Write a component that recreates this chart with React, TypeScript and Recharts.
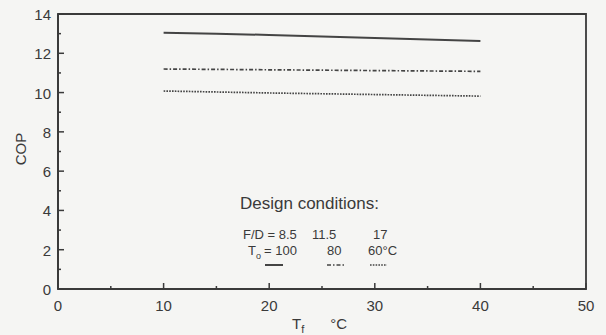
import { LineChart, Line, XAxis, YAxis, ReferenceArea } from "recharts";

// fluid temperature T_f (°C) and COP for the three design conditions
const tf = [10, 15, 20, 25, 30, 35, 40];
const cop100 = [13.05, 13.0, 12.93, 12.85, 12.78, 12.7, 12.62];
const cop80 = [11.2, 11.18, 11.16, 11.14, 11.12, 11.1, 11.08];
const cop60 = [10.08, 10.03, 9.98, 9.94, 9.9, 9.86, 9.82];

const xTicks = [0, 5, 10, 15, 20, 25, 30, 35, 40, 45, 50];
const yTicks = [0, 1, 2, 3, 4, 5, 6, 7, 8, 9, 10, 11, 12, 13, 14];

const INK = "#3a3a3a";
const FONT = "'Liberation Sans', Arial, sans-serif";
const DASH_80 = "4 2 1.5 2";
const DASH_60 = "1.6 1.2";

const data = tf.map((t, i) => ({
  t,
  cop100: cop100[i],
  cop80: cop80[i],
  cop60: cop60[i],
}));

function XTick(props: any) {
  const { x, y, payload } = props;
  const major = payload.value % 10 === 0;
  return (
    <g>
      <line x1={x} y1={y} x2={x} y2={y - (major ? 6 : 3)} stroke={INK} strokeWidth={1.5} />
      {major && (
        <text x={x} y={y + 22} textAnchor="middle" fontSize={15} fill={INK} fontFamily={FONT}>
          {payload.value}
        </text>
      )}
    </g>
  );
}

function YTick(props: any) {
  const { x, y, payload } = props;
  const major = payload.value % 2 === 0;
  return (
    <g>
      <line x1={x} y1={y} x2={x + (major ? 6 : 3)} y2={y} stroke={INK} strokeWidth={1.5} />
      {major && (
        <text x={x - 7} y={y + 6} textAnchor="end" fontSize={15} fill={INK} fontFamily={FONT}>
          {payload.value}
        </text>
      )}
    </g>
  );
}

export default function App() {
  return (
    <div
      style={{
        position: "fixed",
        left: 0,
        top: 0,
        width: 606,
        height: 335,
        background: "#f5f5f3",
      }}
    >
      <LineChart
        width={606}
        height={335}
        data={data}
        margin={{ top: 14, right: 20, left: 0, bottom: 16 }}
      >
        <XAxis
          dataKey="t"
          type="number"
          domain={[0, 50]}
          ticks={xTicks}
          interval={0}
          tickSize={0}
          tickMargin={0}
          tickLine={false}
          tick={<XTick />}
          height={30}
          axisLine={{ stroke: INK, strokeWidth: 2 }}
        />
        <YAxis
          type="number"
          domain={[0, 14]}
          ticks={yTicks}
          interval={0}
          tickSize={0}
          tickMargin={0}
          tickLine={false}
          tick={<YTick />}
          width={58}
          axisLine={{ stroke: INK, strokeWidth: 2 }}
        />
        <ReferenceArea x1={0} x2={50} y1={0} y2={14} fill="none" stroke={INK} strokeWidth={1.8} />
        <Line dataKey="cop100" stroke="#444" strokeWidth={2} dot={false} isAnimationActive={false} />
        <Line
          dataKey="cop80"
          stroke="#444"
          strokeWidth={1.7}
          strokeDasharray={DASH_80}
          dot={false}
          isAnimationActive={false}
        />
        <Line
          dataKey="cop60"
          stroke="#444"
          strokeWidth={1.7}
          strokeDasharray={DASH_60}
          dot={false}
          isAnimationActive={false}
        />

        {/* axis titles */}
        <text
          x={20}
          y={149}
          transform="rotate(-90 20 149)"
          textAnchor="middle"
          dominantBaseline="central"
          fontSize={15}
          fill={INK}
          fontFamily={FONT}
        >
          COP
        </text>
        <text x={292} y={329} fontSize={15} fill={INK} fontFamily={FONT}>
          T<tspan dy={4} fontSize={11}>f</tspan>
          <tspan dy={-4} dx={26} fontSize={15}>°C</tspan>
        </text>

        {/* design conditions key */}
        <g fontFamily={FONT} fill={INK}>
          <text x={240} y={209} fontSize={17}>Design conditions:</text>
          <text x={243} y={239} fontSize={13}>F/D = 8.5</text>
          <text x={312} y={239} fontSize={13}>11.5</text>
          <text x={373} y={239} fontSize={13}>17</text>
          <text x={248} y={255} fontSize={13}>
            T<tspan dy={4} fontSize={9}>o</tspan>
            <tspan dy={-4} dx={3} fontSize={13}>= 100</tspan>
          </text>
          <text x={327} y={255} fontSize={13}>80</text>
          <text x={368} y={255} fontSize={13}>60°C</text>
          <line x1={265} x2={283} y1={265} y2={265} stroke="#444" strokeWidth={2} />
          <line x1={327} x2={344} y1={265} y2={265} stroke="#444" strokeWidth={1.6} strokeDasharray={DASH_80} />
          <line x1={370} x2={387} y1={265} y2={265} stroke="#444" strokeWidth={1.6} strokeDasharray={DASH_60} />
        </g>
      </LineChart>
    </div>
  );
}
